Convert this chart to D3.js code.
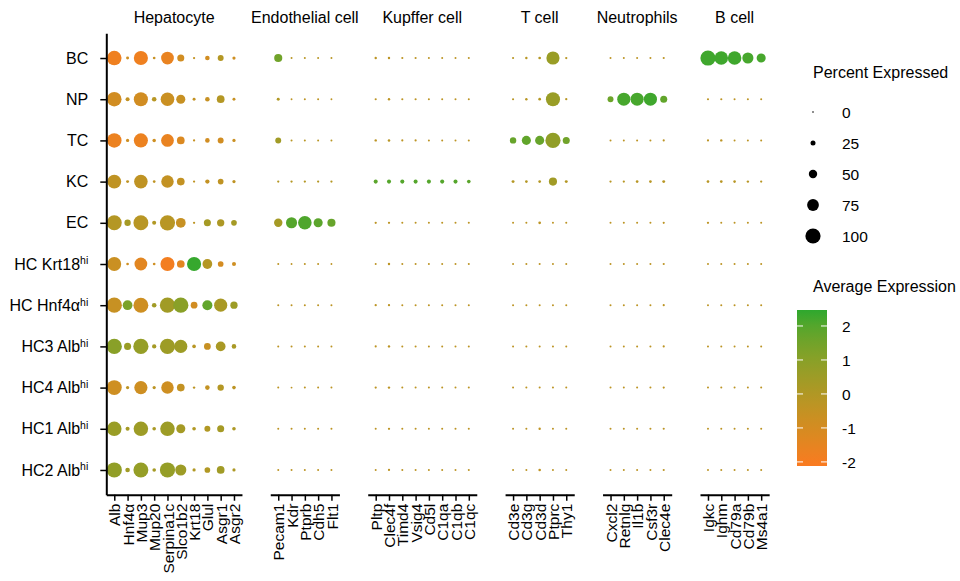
<!DOCTYPE html>
<html>
<head>
<meta charset="utf-8">
<script src="https://cdn.jsdelivr.net/npm/d3@7"></script>
<style>
  body { margin: 0; background: #fff; }
  svg { display: block; font-family: "Liberation Sans", Arial, sans-serif; }
  .axis text { font-size: 15.5px; fill: #000; }
  .axis path, .axis line { stroke: #000; }
</style>
</head>
<body>
<svg id="chart" width="960" height="581"></svg>
<script>
// cell clusters (rows, top to bottom); "^" marks a superscript part
const clusters = ['BC', 'NP', 'TC', 'KC', 'EC', 'HC Krt18^hi', 'HC Hnf4α^hi',
  'HC3 Alb^hi', 'HC4 Alb^hi', 'HC1 Alb^hi', 'HC2 Alb^hi']

const panelNames = ['Hepatocyte', 'Endothelial cell', 'Kupffer cell', 'T cell', 'Neutrophils', 'B cell']

const hepGenes = ['Alb', 'Hnf4α', 'Mup3', 'Mup20', 'Serpina1c', 'Slco1b2', 'Krt18', 'Glul', 'Asgr1', 'Asgr2']
const endoGenes = ['Pecam1', 'Kdr', 'Ptprb', 'Cdh5', 'Flt1']
const kupfferGenes = ['Pltp', 'Clec4f', 'Timd4', 'Vsig4', 'Cd5l', 'C1qa', 'C1qb', 'C1qc']
const tGenes = ['Cd3e', 'Cd3g', 'Cd3d', 'Ptprc', 'Thy1']
const neutroGenes = ['Cxcl2', 'Retnlg', 'Il1b', 'Csf3r', 'Clec4e']
const bGenes = ['Igkc', 'Ighm', 'Cd79a', 'Cd79b', 'Ms4a1']

// percent expressed, one row per cluster
const hepPct = [
  [95, 10, 92, 8, 82, 40, 5, 22, 32, 12],
  [95, 18, 92, 22, 88, 55, 10, 22, 45, 10],
  [95, 12, 92, 14, 82, 45, 5, 22, 32, 12],
  [90, 10, 88, 8, 80, 45, 5, 20, 30, 12],
  [98, 35, 98, 18, 100, 60, 5, 40, 42, 30],
  [90, 8, 82, 8, 92, 45, 92, 60, 30, 18],
  [100, 60, 98, 22, 100, 100, 38, 62, 85, 42],
  [100, 40, 100, 20, 100, 85, 15, 38, 60, 22],
  [98, 12, 85, 12, 80, 45, 6, 22, 35, 15],
  [95, 18, 95, 15, 95, 55, 15, 32, 40, 15],
  [100, 22, 98, 15, 100, 70, 12, 30, 45, 12]
]
// average (scaled) expression
const hepExp = [
  [-1.8, -0.8, -1.8, -0.6, -1.6, -0.9, -0.5, -0.9, -0.1, -0.8],
  [-0.9, -0.5, -0.9, -0.2, -0.7, -0.6, -0.5, -0.6, -0.1, -0.6],
  [-1.7, -0.8, -1.7, -0.8, -1.6, -1.2, -0.6, -0.9, -0.9, -0.7],
  [-0.4, -0.4, -0.4, -0.4, -0.5, -0.5, -0.4, -0.5, -0.4, -0.4],
  [-0.1, 0.3, -0.2, 0.0, -0.2, -0.6, -0.3, 0.3, 0.1, 0.3],
  [-0.7, -0.8, -1.4, -0.8, -1.9, -1.4, 2.4, -0.1, -1.0, -0.8],
  [-0.6, 1.3, -0.8, 0.4, 0.4, 1.0, -0.9, 1.8, 0.2, 0.5],
  [1.0, 0.6, 0.7, 0.3, 0.5, 0.5, -0.2, -0.6, 0.2, 0.2],
  [-0.8, -0.3, -0.8, -0.3, -0.8, -0.5, -0.3, -0.5, -0.1, -0.3],
  [0.6, 0.3, 0.5, 0.2, 0.5, 0.3, 0.0, 0.0, 0.3, 0.1],
  [0.8, 0.4, 0.7, 0.3, 0.7, 0.5, 0.0, 0.0, 0.4, 0.1]
]

const endoPct = [
  [48, 3, 3, 3, 3], [10, 2, 3, 3, 2], [32, 3, 3, 3, 3], [5, 5, 5, 5, 5],
  [50, 70, 88, 55, 48], [3, 2, 3, 3, 2], [3, 3, 3, 3, 3], [3, 3, 3, 3, 3],
  [3, 2, 3, 3, 3], [3, 3, 3, 3, 3], [3, 3, 3, 3, 3]
]
const endoExp = [
  [1.5, -0.2, -0.2, -0.2, -0.2], [0.0, -0.3, -0.3, -0.3, -0.3], [0.4, -0.2, -0.2, -0.2, -0.2],
  [-0.1, -0.1, -0.1, -0.1, -0.1], [0.3, 2.0, 2.1, 1.9, 1.7], [-0.3, -0.3, -0.3, -0.3, -0.3],
  [-0.3, -0.3, -0.3, -0.3, -0.3], [-0.3, -0.3, -0.3, -0.3, -0.3], [-0.3, -0.3, -0.3, -0.3, -0.3],
  [-0.3, -0.3, -0.3, -0.3, -0.3], [-0.3, -0.3, -0.3, -0.3, -0.3]
]

const kupfferPct = [
  [6, 6, 4, 4, 3, 3, 3, 3], [4, 6, 4, 4, 3, 3, 3, 3], [6, 7, 4, 4, 3, 3, 3, 3],
  [18, 18, 18, 18, 18, 18, 18, 15], [5, 5, 3, 3, 3, 3, 3, 3], [3, 6, 3, 3, 3, 3, 3, 3],
  [5, 5, 3, 3, 3, 3, 3, 3], [4, 6, 3, 3, 3, 3, 3, 3], [5, 6, 3, 3, 3, 3, 3, 3],
  [3, 5, 3, 3, 3, 3, 3, 3], [3, 5, 3, 3, 3, 3, 3, 3]
]
const kupfferExp = [
  [-0.3, -0.3, -0.3, -0.3, -0.3, -0.3, -0.3, -0.3], [-0.3, -0.3, -0.3, -0.3, -0.3, -0.3, -0.3, -0.3],
  [-0.3, -0.2, -0.3, -0.3, -0.3, -0.3, -0.3, -0.3], [1.9, 2.0, 2.0, 2.0, 2.0, 2.0, 2.0, 1.9],
  [-0.3, -0.3, -0.3, -0.3, -0.3, -0.3, -0.3, -0.3], [-0.3, -0.3, -0.3, -0.3, -0.3, -0.3, -0.3, -0.3],
  [-0.3, -0.3, -0.3, -0.3, -0.3, -0.3, -0.3, -0.3], [-0.3, -0.3, -0.3, -0.3, -0.3, -0.3, -0.3, -0.3],
  [-0.3, -0.3, -0.3, -0.3, -0.3, -0.3, -0.3, -0.3], [-0.3, -0.3, -0.3, -0.3, -0.3, -0.3, -0.3, -0.3],
  [-0.3, -0.3, -0.3, -0.3, -0.3, -0.3, -0.3, -0.3]
]

const tPct = [
  [4, 6, 8, 85, 5], [4, 6, 8, 92, 5], [35, 55, 55, 100, 40], [10, 8, 8, 48, 10],
  [3, 3, 8, 3, 3], [3, 3, 3, 3, 3], [3, 3, 3, 3, 3], [3, 3, 3, 3, 3],
  [3, 3, 3, 3, 3], [3, 3, 6, 3, 3], [3, 3, 7, 3, 3]
]
const tExp = [
  [-0.2, -0.2, -0.1, 0.6, -0.2], [-0.2, -0.2, -0.1, 0.6, -0.2], [1.7, 1.8, 1.7, 0.8, 1.5],
  [-0.1, -0.1, -0.1, 0.4, -0.1], [-0.3, -0.3, -0.3, -0.3, -0.3], [-0.3, -0.3, -0.3, -0.3, -0.3],
  [-0.3, -0.3, -0.3, -0.3, -0.3], [-0.3, -0.3, -0.3, -0.3, -0.3], [-0.3, -0.3, -0.3, -0.3, -0.3],
  [-0.3, -0.3, -0.4, -0.3, -0.3], [-0.3, -0.3, -0.4, -0.3, -0.3]
]

const neutroPct = [
  [3, 3, 3, 3, 4], [32, 85, 85, 85, 40], [3, 3, 3, 3, 4], [5, 5, 8, 8, 10],
  [3, 3, 3, 3, 4], [3, 3, 3, 3, 4], [3, 3, 3, 3, 4], [3, 3, 3, 3, 4],
  [3, 3, 3, 3, 4], [3, 3, 3, 3, 4], [3, 3, 3, 3, 4]
]
const neutroExp = [
  [-0.3, -0.3, -0.3, -0.3, -0.3], [1.6, 2.2, 2.2, 2.3, 1.8], [-0.3, -0.3, -0.3, -0.3, -0.3],
  [-0.2, -0.2, -0.2, -0.2, -0.2], [-0.3, -0.3, -0.3, -0.3, -0.3], [-0.3, -0.3, -0.3, -0.3, -0.3],
  [-0.3, -0.3, -0.3, -0.3, -0.3], [-0.3, -0.3, -0.3, -0.3, -0.3], [-0.3, -0.3, -0.3, -0.3, -0.3],
  [-0.3, -0.3, -0.3, -0.3, -0.3], [-0.3, -0.3, -0.3, -0.3, -0.3]
]

const bPct = [
  [100, 88, 88, 70, 55], [4, 4, 3, 3, 3], [4, 6, 3, 3, 3], [8, 8, 7, 6, 5],
  [5, 3, 3, 3, 3], [3, 3, 3, 3, 3], [3, 3, 3, 3, 3], [3, 3, 3, 3, 3],
  [3, 3, 3, 3, 3], [3, 3, 3, 3, 3], [3, 3, 3, 3, 3]
]
const bExp = [
  [2.3, 2.3, 2.3, 2.2, 2.2], [-0.3, -0.3, -0.3, -0.3, -0.3], [-0.3, -0.3, -0.3, -0.3, -0.3],
  [-0.2, -0.2, -0.2, -0.2, -0.2], [-0.3, -0.3, -0.3, -0.3, -0.3], [-0.3, -0.3, -0.3, -0.3, -0.3],
  [-0.3, -0.3, -0.3, -0.3, -0.3], [-0.3, -0.3, -0.3, -0.3, -0.3], [-0.3, -0.3, -0.3, -0.3, -0.3],
  [-0.3, -0.3, -0.3, -0.3, -0.3], [-0.3, -0.3, -0.3, -0.3, -0.3]
]

const sizeTicks = [0, 25, 50, 75, 100]
const colorTicks = [2, 1, 0, -1, -2]
const expRange = [-2.12, 2.47]

const panels = [
  { name: panelNames[0], genes: hepGenes, pct: hepPct, exp: hepExp },
  { name: panelNames[1], genes: endoGenes, pct: endoPct, exp: endoExp },
  { name: panelNames[2], genes: kupfferGenes, pct: kupfferPct, exp: kupfferExp },
  { name: panelNames[3], genes: tGenes, pct: tPct, exp: tExp },
  { name: panelNames[4], genes: neutroGenes, pct: neutroPct, exp: neutroExp },
  { name: panelNames[5], genes: bGenes, pct: bPct, exp: bExp }
]

const svg = d3.select('#chart')

// layout
const step = 13.3
const gap = 28.3
const plotLeft = 106.3
const plotTop = 33.3
const plotBottom = 494.7

const y = d3.scalePoint().domain(clusters).range([plotTop, plotBottom]).padding(0.6)
const r = d3.scaleLinear().domain([0, 100]).range([0.8, 7.6])
const color = d3.scaleLinear()
  .domain(expRange)
  .range(['#fa7a20', '#2ea82e'])
  .interpolate(d3.interpolateLab)
  .clamp(true)

let cursor = plotLeft
panels.forEach(p => {
  const width = (p.genes.length + 0.2) * step
  p.x = d3.scalePoint().domain(p.genes).range([cursor, cursor + width]).padding(0.6)
  p.x0 = cursor
  p.x1 = cursor + width
  cursor += width + gap
})

// dots
panels.forEach(p => {
  const cells = []
  clusters.forEach((c, i) => {
    p.genes.forEach((g, j) => {
      cells.push({ cluster: c, gene: g, pct: p.pct[i][j], exp: p.exp[i][j] })
    })
  })
  svg.append('g')
    .selectAll('circle')
    .data(cells)
    .join('circle')
    .attr('cx', d => p.x(d.gene))
    .attr('cy', d => y(d.cluster))
    .attr('r', d => r(d.pct))
    .attr('fill', d => color(d.exp))

  // strip title
  svg.append('text')
    .attr('x', (p.x0 + p.x1) / 2)
    .attr('y', 23)
    .attr('text-anchor', 'middle')
    .style('font-size', '16px')
    .text(p.name)

  // x axis per panel
  const gx = svg.append('g')
    .attr('class', 'axis')
    .attr('transform', `translate(0,${plotBottom})`)
    .call(d3.axisBottom(p.x).tickSize(6).tickSizeOuter(0))
  gx.select('.domain').attr('stroke-width', 2)
  gx.selectAll('.tick line').attr('stroke-width', 1.5)
  gx.selectAll('.tick text')
    .attr('transform', 'rotate(-90)')
    .attr('x', -9)
    .attr('y', 0)
    .attr('dy', '0.36em')
    .attr('text-anchor', 'end')
})

// y axis
const gy = svg.append('g')
  .attr('class', 'axis')
  .attr('transform', `translate(${plotLeft},0)`)
  .call(d3.axisLeft(y).tickSize(6).tickSizeOuter(0))
gy.select('.domain').attr('stroke-width', 2)
gy.selectAll('.tick line').attr('stroke-width', 1.5)
gy.selectAll('.tick text')
  .attr('x', -18)
  .style('font-size', '16px')
  .each(function (d) {
    const [main, sup] = d.split('^')
    const t = d3.select(this).text(main)
    if (sup) {
      t.append('tspan')
        .attr('dy', '-0.5em')
        .style('font-size', '10.5px')
        .text(sup)
    }
  })

// size legend
const lg = svg.append('g')
lg.append('text')
  .attr('x', 813)
  .attr('y', 78)
  .style('font-size', '16px')
  .text('Percent Expressed')
const sizeY = d3.scalePoint().domain(sizeTicks).range([112, 236])
lg.selectAll('circle')
  .data(sizeTicks)
  .join('circle')
  .attr('cx', 813)
  .attr('cy', d => sizeY(d))
  .attr('r', d => r(d))
  .attr('fill', '#000')
lg.selectAll('.lbl')
  .data(sizeTicks)
  .join('text')
  .attr('class', 'lbl')
  .attr('x', 842)
  .attr('y', d => sizeY(d))
  .attr('dy', '0.36em')
  .style('font-size', '15.5px')
  .text(d => d)

// colour bar legend
const cb = svg.append('g')
cb.append('text')
  .attr('x', 813)
  .attr('y', 292)
  .style('font-size', '16px')
  .text('Average Expression')

const barX = 797
const barW = 30
const cbY = d3.scaleLinear().domain(expRange).range([466, 310])
const grad = svg.append('defs').append('linearGradient')
  .attr('id', 'expGrad')
  .attr('x1', 0).attr('y1', 1).attr('x2', 0).attr('y2', 0)
d3.range(0, 1.0001, 0.1).forEach(t => {
  grad.append('stop')
    .attr('offset', t)
    .attr('stop-color', color(expRange[0] + t * (expRange[1] - expRange[0])))
})
cb.append('rect')
  .attr('x', barX)
  .attr('y', cbY.range()[1])
  .attr('width', barW)
  .attr('height', cbY.range()[0] - cbY.range()[1])
  .attr('fill', 'url(#expGrad)')
colorTicks.forEach(v => {
  cb.append('line')
    .attr('x1', barX).attr('x2', barX + 6)
    .attr('y1', cbY(v)).attr('y2', cbY(v))
    .attr('stroke', '#fff').attr('stroke-width', 1)
  cb.append('line')
    .attr('x1', barX + barW - 6).attr('x2', barX + barW)
    .attr('y1', cbY(v)).attr('y2', cbY(v))
    .attr('stroke', '#fff').attr('stroke-width', 1)
})
cb.selectAll('.clbl')
  .data(colorTicks)
  .join('text')
  .attr('class', 'clbl')
  .attr('x', 842)
  .attr('y', d => cbY(d))
  .attr('dy', '0.36em')
  .style('font-size', '15.5px')
  .text(d => d)
</script>
</body>
</html>
